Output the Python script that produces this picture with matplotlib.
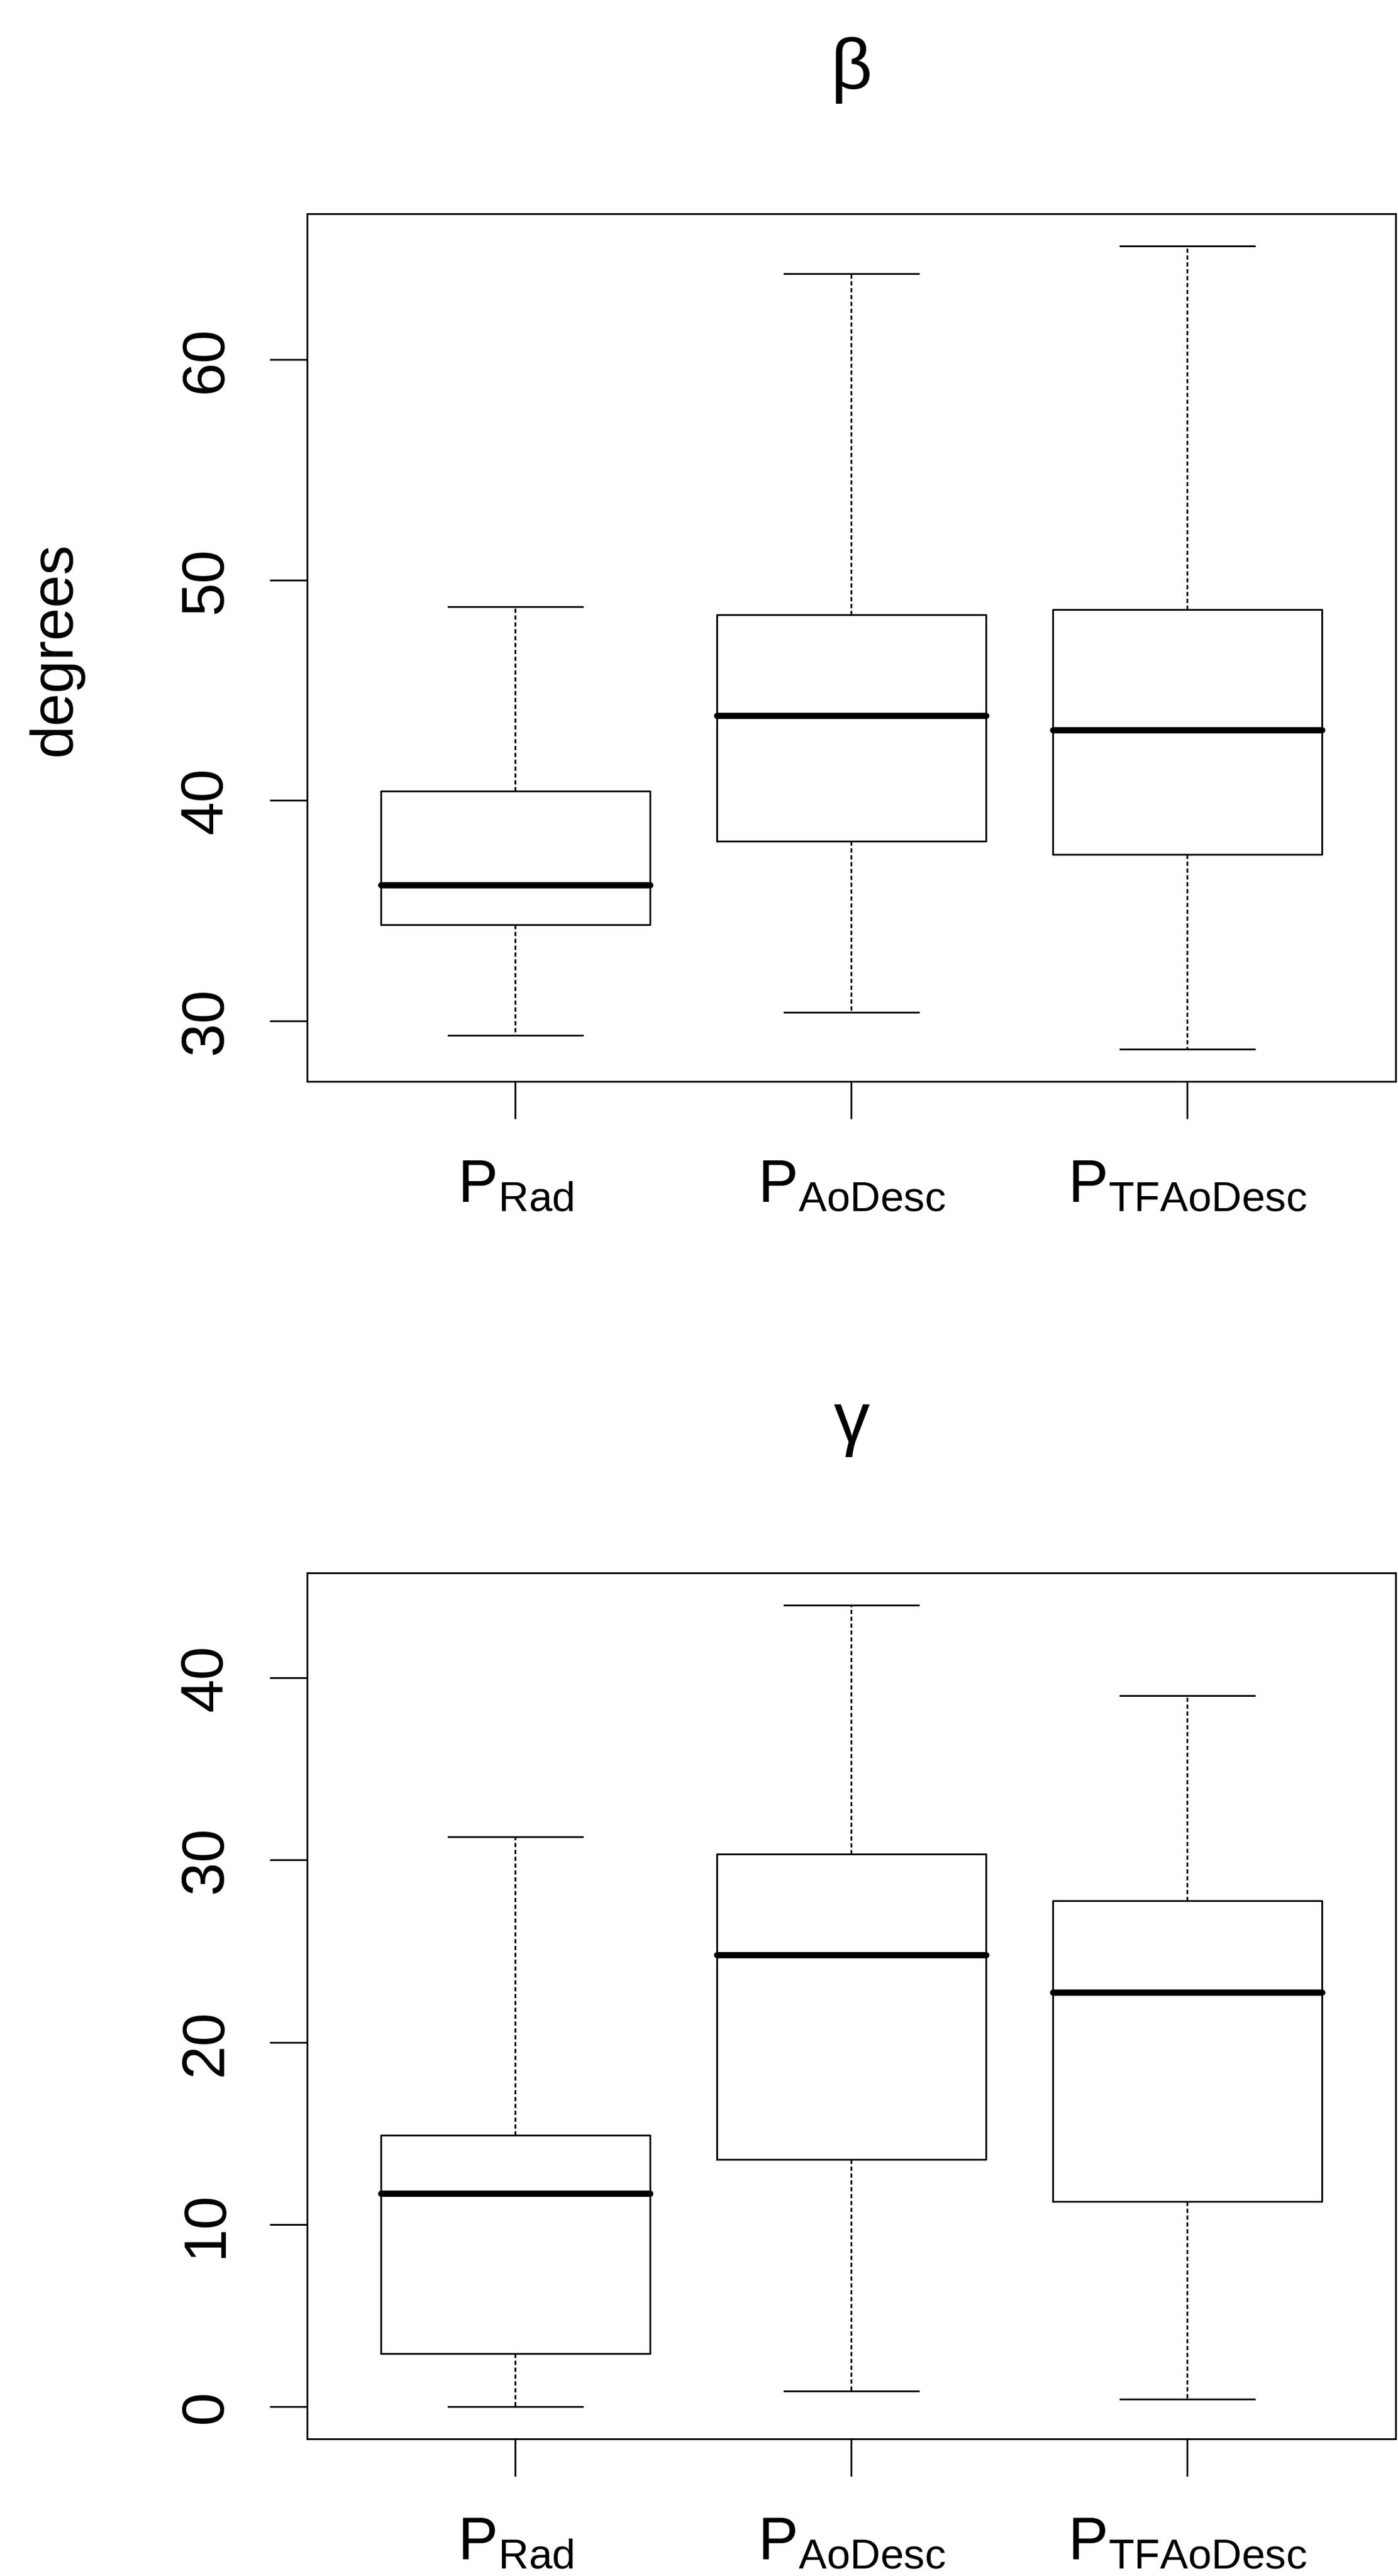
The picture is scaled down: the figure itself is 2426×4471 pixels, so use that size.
import matplotlib
matplotlib.use("Agg")
import matplotlib.pyplot as plt

plt.rcParams['font.family'] = ['Liberation Sans', 'DejaVu Sans']
plt.rcParams['mathtext.fontset'] = 'custom'
plt.rcParams['mathtext.rm'] = 'Liberation Sans'
plt.rcParams['mathtext.it'] = 'Liberation Sans:italic'

# groups shown on the x axis
groups = [r'$\mathrm{P}_{\mathrm{Rad}}$', r'$\mathrm{P}_{\mathrm{AoDesc}}$',
          r'$\mathrm{P}_{\mathrm{TFAoDesc}}$']

# beta (degrees): lower whisker, Q1, median, Q3, upper whisker
beta_low = [29.35, 30.4, 28.72]
beta_q1 = [34.38, 38.15, 37.55]
beta_med = [36.17, 43.84, 43.19]
beta_q3 = [40.44, 48.42, 48.65]
beta_high = [48.79, 63.88, 65.15]
beta_ticks = [30, 40, 50, 60]

# gamma (degrees)
gamma_low = [0.0, 0.87, 0.42]
gamma_q1 = [2.91, 13.58, 11.28]
gamma_med = [11.70, 24.79, 22.75]
gamma_q3 = [14.91, 30.34, 27.77]
gamma_high = [31.28, 44.0, 39.02]
gamma_ticks = [0, 10, 20, 30, 40]

LW = 2.2


def draw_panel(ax, low, q1, med, q3, high, ticks, title, title_y):
    stats = []
    for i in range(len(groups)):
        stats.append({'whislo': low[i], 'q1': q1[i], 'med': med[i],
                      'q3': q3[i], 'whishi': high[i], 'fliers': []})
    ax.bxp(stats, positions=[1, 2, 3], widths=0.8, capwidths=0.4,
           showfliers=False,
           boxprops=dict(color='black', linewidth=LW),
           whiskerprops=dict(color='black', linewidth=LW,
                             linestyle=(0, (2.4, 1.5))),
           capprops=dict(color='black', linewidth=LW),
           medianprops=dict(color='black', linewidth=7.8,
                            solid_capstyle='round'))

    # R-style axis ranges: 4% padding
    lo, hi = min(low), max(high)
    pad = 0.04 * (hi - lo)
    ax.set_ylim(lo - pad, hi + pad)
    ax.set_xlim(0.5 - 0.12, 3.5 + 0.12)

    ax.set_yticks(ticks)
    ax.set_yticklabels([str(t) for t in ticks], rotation=90, va='center')
    ax.set_xticks([1, 2, 3])
    ax.set_xticklabels(groups)
    ax.tick_params(axis='y', length=46.8, width=LW, pad=44, labelsize=75)
    ax.tick_params(axis='x', length=46.8, width=LW, pad=50, labelsize=75)
    for s in ax.spines.values():
        s.set_linewidth(LW)
    ax.text(0.5, title_y, title, transform=ax.transAxes, ha='center',
            va='baseline', fontsize=90)


fig = plt.figure(figsize=(24.26, 44.71), dpi=100)
ax1 = fig.add_axes([0.2197, 0.5802, 0.7786, 0.3368])
ax2 = fig.add_axes([0.2197, 0.05323, 0.7786, 0.3362])

draw_panel(ax1, beta_low, beta_q1, beta_med, beta_q3, beta_high,
           beta_ticks, 'β', 1.144)
draw_panel(ax2, gamma_low, gamma_q1, gamma_med, gamma_q3, gamma_high,
           gamma_ticks, 'γ', 1.151)

fig.text(96 / 2426, 1 - 1126 / 4471, 'degrees', rotation=90,
         ha='center', va='center', fontsize=74)

fig.savefig('out.png', dpi=100)
